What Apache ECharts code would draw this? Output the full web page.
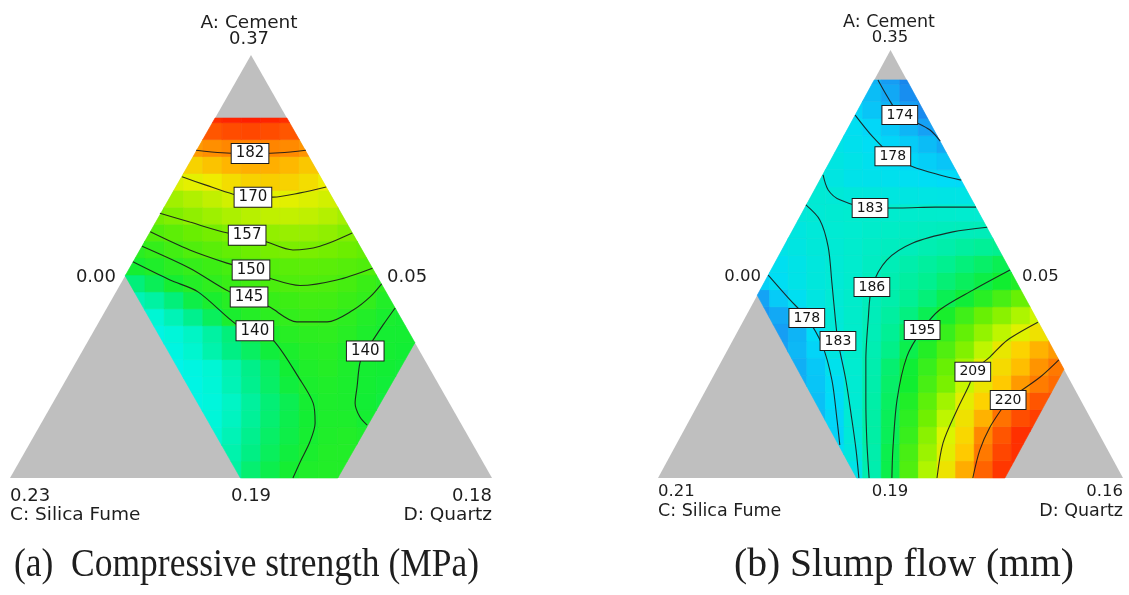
<!DOCTYPE html>
<html>
<head>
<meta charset="utf-8">
<script src="https://cdn.jsdelivr.net/npm/echarts@6/dist/echarts.min.js"></script>
<style>
  html, body { margin: 0; padding: 0; background: #ffffff; }
  #chart { width: 1129px; height: 595px; }
</style>
</head>
<body>
<div id="chart"></div>
<script>
// Each panel is a ternary slice drawn on a hidden value grid:
// x runs 0..1 along the base (C at 0, D at 1), y runs 0..1 from base to apex A.
const STEP = 0.04;                        // size of one response cell in axis units
const TRIANGLE = [[0, 0], [1, 0], [0.5, 1]];

// ---------- (a) Compressive strength (MPa) ----------
const strengthRegion = [[0.4255, 0.851], [0.5745, 0.851], [0.84, 0.32], [0.68, 0], [0.478, 0], [0.239, 0.478]];
const strengthRowStart = [11, 10, 10, 9, 9, 8, 8, 7, 7, 6, 6, 5, 6, 6, 7, 7, 8, 8, 9, 9, 10, 10];
const strengthRows = [
  [128, 133, 136.5, 139.5, 141.5, 142, 142],
  [125, 127, 131, 135, 138, 140.5, 142, 142],
  [123, 126, 130, 134, 137, 139.7, 141.5, 142, 141],
  [121, 122, 125, 129, 133, 136.5, 139.2, 141, 141, 139.5],
  [120, 121.5, 124.5, 128.5, 132.5, 136, 139.5, 141, 140.7, 139, 138],
  [119, 120, 122.5, 126, 130, 134, 138, 140.7, 141.5, 140.7, 139.3, 138.5],
  [119, 120.5, 123, 126.5, 130.5, 134.5, 139, 141.5, 142.5, 141, 139.5, 139, 138.5],
  [119, 120.5, 123.5, 127, 131, 134.5, 138.2, 140.8, 142.5, 143, 141.5, 140, 139.5, 139],
  [120, 122, 124.5, 128, 132, 136.5, 141, 143, 144, 144.3, 143, 141, 139.5, 139.5],
  [122, 123, 126, 130, 135, 140.5, 142.5, 144, 145, 146, 145.5, 144, 142, 140.3, 139.5],
  [126, 128, 132, 137, 140.5, 143, 144.6, 146, 147, 148, 147.8, 146.5, 145, 142],
  [128, 132, 135.5, 139.5, 142.5, 144.6, 146.5, 148, 149.3, 150.1, 150.3, 150, 148.5, 146.5, 144.5],
  [139.5, 141.5, 143.8, 145.6, 147, 148.6, 150, 151.2, 152, 152.3, 152, 151.2, 150.2],
  [143.5, 145.5, 148, 150.3, 152, 153.5, 155, 156.2, 156.9, 156.7, 156, 155, 153.5],
  [150.5, 152.5, 154.5, 156, 157.3, 158.6, 159.8, 160.5, 160.5, 159.5, 157.5],
  [156, 157.5, 159.5, 161.3, 163, 164.3, 165.3, 165.7, 165.3, 164, 162],
  [161.5, 163.5, 165.5, 167.5, 169.3, 169.8, 169.5, 168.7, 167.5],
  [168.5, 169.8, 171.5, 173.5, 175, 175.5, 175, 173.5, 171],
  [175, 177, 178.8, 179.5, 179.5, 178.5, 176.5],
  [181.5, 182.5, 183.3, 183.6, 183.5, 183, 182],
  [188, 189, 189.5, 189, 188],
  [192, 193, 193.5, 193, 192]
];
const strengthLevels = [182, 170, 157, 150, 145, 140, 140];
const strengthLines = [
  [[0.386, 0.775], [0.44, 0.769], [0.498, 0.767], [0.56, 0.769], [0.614, 0.775]],
  [[0.357, 0.712], [0.405, 0.693], [0.463, 0.671], [0.504, 0.664], [0.546, 0.664], [0.602, 0.674], [0.656, 0.688]],
  [[0.311, 0.626], [0.373, 0.605], [0.452, 0.579], [0.492, 0.574], [0.533, 0.558], [0.587, 0.539], [0.643, 0.548], [0.710, 0.579]],
  [[0.291, 0.582], [0.373, 0.539], [0.45, 0.508], [0.500, 0.492], [0.545, 0.470], [0.602, 0.455], [0.678, 0.468], [0.752, 0.496]],
  [[0.274, 0.548], [0.373, 0.496], [0.456, 0.440], [0.496, 0.428], [0.539, 0.404], [0.595, 0.369], [0.658, 0.369], [0.712, 0.397], [0.747, 0.428], [0.771, 0.459]],
  [[0.255, 0.511], [0.332, 0.468], [0.390, 0.440], [0.471, 0.362], [0.508, 0.348], [0.546, 0.326], [0.602, 0.232], [0.629, 0.177], [0.633, 0.130], [0.622, 0.085], [0.602, 0.038], [0.587, 0]],
  [[0.799, 0.402], [0.774, 0.362], [0.753, 0.326], [0.737, 0.300], [0.726, 0.272], [0.720, 0.215], [0.716, 0.177], [0.726, 0.144], [0.741, 0.125]]
];
const strengthLabelAt = [2, 3, 3, 3, 3, 4, 3];
const strengthRange = [115, 195];

// ---------- (b) Slump flow (mm) ----------
const slumpRegion = [[0.465, 0.93], [0.535, 0.93], [0.873, 0.254], [0.746, 0], [0.427, 0], [0.2135, 0.427]];
const slumpRowStart = [10, 9, 9, 8, 8, 7, 7, 6, 6, 5, 5, 5, 6, 6, 7, 7, 8, 8, 9, 9, 10, 10, 11, 11];
const slumpRows = [
  [180.5, 187.2, 194.3, 200, 205.7, 211.2, 217, 222.5, 225.5, 227],
  [178.5, 182, 187.5, 194.2, 199.5, 204.5, 209.5, 214.5, 221, 224.5, 226.5],
  [177.3, 182.8, 188, 193.5, 198.5, 203.5, 208.5, 213, 220, 223.5, 226, 227],
  [175, 177.5, 183.4, 188, 193.5, 197.8, 202, 206.5, 211.5, 216.5, 221.5, 224, 225],
  [175.5, 178, 183.6, 187.8, 193, 197, 200.8, 204.8, 209.7, 213.7, 218.5, 221.5, 223.5, 224],
  [174, 176, 178.5, 183.7, 187.5, 192.5, 196, 199.5, 202.5, 207, 211, 214.5, 218.5, 220.8, 222],
  [174, 176.2, 179.8, 184, 187.2, 192, 195.7, 198.5, 201.5, 205, 209.5, 212.5, 215.5, 219, 221],
  [172.8, 174.8, 177.3, 181.5, 184.3, 186.8, 190.5, 194.2, 197.2, 200, 203, 206.5, 210.5, 213.5, 216.5, 218.5],
  [172.5, 174.5, 178.2, 182.7, 184.5, 186.3, 189.5, 193, 195.7, 198.5, 201.2, 204, 206.5, 209, 211.5],
  [172, 173.5, 176.5, 179.7, 183, 184.6, 186.2, 188.5, 191, 193.8, 196.5, 199, 201.5, 203.5, 205.5, 207.5],
  [173, 176.5, 179, 181.5, 183.2, 184.5, 186, 187.5, 189.5, 191.5, 193.8, 195.5, 197.5, 199.5, 201.5],
  [177, 178.7, 180.5, 182.2, 183.1, 184.3, 185.7, 187, 188.5, 190, 191.7, 193.2, 194.6, 196, 197],
  [179.2, 180.5, 182, 183.2, 184.2, 185.3, 186.3, 187.5, 188.7, 190, 191.3, 192.5, 193.8],
  [180.5, 181.5, 182.6, 183.4, 184.2, 184.9, 185.5, 186, 186.8, 187.5, 188.5, 189.3, 190],
  [181.8, 182.7, 183.5, 184, 184.5, 184.9, 185.2, 185.5, 185.8, 186, 186.2],
  [182.5, 183.2, 183.7, 184, 184.1, 184.2, 184.3, 184.4, 184.3, 184.1, 183.9],
  [183.4, 183, 182.4, 182, 181.8, 181.5, 181.2, 181, 180.9],
  [183, 181.5, 180.3, 180, 179.6, 179, 178.6, 178.1, 177.8],
  [181.5, 180.5, 179.5, 178.6, 177.6, 176.8, 176],
  [180.5, 179.6, 178.6, 177.4, 176.5, 175.2, 173.5],
  [179, 177.6, 176.2, 174.6, 172.8],
  [177.5, 176, 174.5, 172.5, 170.5],
  [175.3, 173.4, 170.8],
  [174.6, 172.4, 170]
];
const slumpLevels = [174, 178, 183, 186, 195, 209, 220, 178, 183];
const slumpLines = [
  [[0.473, 0.930], [0.495, 0.888], [0.520, 0.848], [0.553, 0.832], [0.585, 0.813], [0.607, 0.787]],
  [[0.424, 0.848], [0.462, 0.797], [0.505, 0.752], [0.548, 0.727], [0.606, 0.708], [0.652, 0.696]],
  [[0.355, 0.708], [0.366, 0.673], [0.391, 0.650], [0.456, 0.631], [0.520, 0.631], [0.596, 0.633], [0.684, 0.633]],
  [[0.708, 0.586], [0.634, 0.575], [0.548, 0.549], [0.492, 0.509], [0.460, 0.446], [0.452, 0.369], [0.447, 0.276], [0.447, 0.182], [0.449, 0.089], [0.454, 0]],
  [[0.757, 0.486], [0.677, 0.439], [0.606, 0.393], [0.568, 0.346], [0.535, 0.283], [0.514, 0.182], [0.505, 0.065], [0.503, 0]],
  [[0.817, 0.364], [0.751, 0.322], [0.714, 0.283], [0.677, 0.248], [0.671, 0.222], [0.643, 0.159], [0.613, 0.082], [0.600, 0]],
  [[0.862, 0.276], [0.822, 0.236], [0.753, 0.182], [0.742, 0.166], [0.714, 0.119], [0.692, 0.065], [0.677, 0]],
  [[0.237, 0.474], [0.284, 0.416], [0.320, 0.374], [0.353, 0.311], [0.374, 0.229], [0.385, 0.136], [0.391, 0.077]],
  [[0.318, 0.638], [0.348, 0.603], [0.366, 0.540], [0.374, 0.456], [0.381, 0.376], [0.387, 0.320], [0.404, 0.229], [0.417, 0.136], [0.426, 0.065], [0.432, 0]]
];
const slumpLabelAt = [2, 2, 3, 4, 3, 3, 2, 2, 5];
const slumpRange = [166, 226];

// Corner / edge annotations of each panel
const strengthCorners = ['A: Cement', '0.37', '0.00', '0.05', '0.23', '0.19', '0.18', 'C: Silica Fume', 'D: Quartz'];
const slumpCorners = ['A: Cement', '0.35', '0.00', '0.05', '0.21', '0.19', '0.16', 'C: Silica Fume', 'D: Quartz'];
const captions = ['(a)  Compressive strength (MPa)', '(b) Slump flow (mm)'];

// ---------- helpers ----------
function signedArea(poly) {
  let s = 0;
  for (let i = 0; i < poly.length; i++) {
    const a = poly[i], b = poly[(i + 1) % poly.length];
    s += a[0] * b[1] - b[0] * a[1];
  }
  return s / 2;
}

// Sutherland-Hodgman clip of a cell against the convex feasible region
function clipToRegion(subject, region) {
  const orient = signedArea(region) > 0 ? 1 : -1;
  let out = subject;
  for (let i = 0; i < region.length && out.length; i++) {
    const a = region[i], b = region[(i + 1) % region.length];
    const side = p => orient * ((b[0] - a[0]) * (p[1] - a[1]) - (b[1] - a[1]) * (p[0] - a[0]));
    const input = out;
    out = [];
    for (let j = 0; j < input.length; j++) {
      const p = input[j], q = input[(j + 1) % input.length];
      const sp = side(p), sq = side(q);
      if (sp >= 0) out.push(p);
      if ((sp >= 0) !== (sq >= 0)) {
        const t = sp / (sp - sq);
        out.push([p[0] + t * (q[0] - p[0]), p[1] + t * (q[1] - p[1])]);
      }
    }
  }
  return out;
}

function cellData(rows, starts) {
  const out = [];
  rows.forEach((vals, i) => vals.forEach((v, k) => out.push([(starts[i] + k) * STEP, i * STEP, v])));
  return out;
}

function panel(idx, region, rows, starts, levels, lines, labelAt, labelSize) {
  const list = [];
  // grey simplex
  list.push({
    type: 'custom', xAxisIndex: idx, yAxisIndex: idx, silent: true, z: 1,
    data: [[0, 0]],
    renderItem: (params, api) => ({
      type: 'polygon',
      shape: { points: TRIANGLE.map(p => api.coord(p)) },
      style: { fill: '#bfbfbf' }
    })
  });
  // response surface cells
  list.push({
    type: 'custom', xAxisIndex: idx, yAxisIndex: idx, silent: true, z: 2,
    dimensions: ['x', 'y', 'v'],
    encode: { x: 0, y: 1 },
    data: cellData(rows, starts),
    renderItem: (params, api) => {
      const x0 = api.value(0), y0 = api.value(1);
      const cell = [[x0, y0], [x0 + STEP, y0], [x0 + STEP, y0 + STEP], [x0, y0 + STEP]];
      const poly = clipToRegion(cell, region);
      if (poly.length < 3) return null;
      const color = api.visual('color');
      return {
        type: 'polygon',
        shape: { points: poly.map(p => api.coord(p)) },
        style: { fill: color, stroke: color, lineWidth: 0.6 }
      };
    }
  });
  // contour lines
  lines.forEach(pts => list.push({
    type: 'line', xAxisIndex: idx, yAxisIndex: idx, silent: true, z: 3,
    data: pts, smooth: 0.3, symbol: 'none',
    lineStyle: { color: '#1a1a1a', width: 1.1, opacity: 0.9 }
  }));
  // contour labels
  list.push({
    type: 'scatter', xAxisIndex: idx, yAxisIndex: idx, silent: true, z: 4,
    symbol: 'rect', symbolSize: 1,
    itemStyle: { color: 'rgba(0,0,0,0)', opacity: 1 },
    data: levels.map((lv, i) => [lines[i][labelAt[i]][0], lines[i][labelAt[i]][1], lv]),
    label: {
      show: true, position: 'inside', opacity: 1,
      formatter: p => String(p.value[2]),
      fontFamily: 'DejaVu Sans', fontSize: labelSize, color: '#151515',
      backgroundColor: '#ffffff', borderColor: '#1a1a1a', borderWidth: 1,
      padding: [1, 4, 0, 4], lineHeight: labelSize + 3
    }
  });
  return list;
}

const seriesA = panel(0, strengthRegion, strengthRows, strengthRowStart, strengthLevels, strengthLines, strengthLabelAt, 15);
const seriesB = panel(1, slumpRegion, slumpRows, slumpRowStart, slumpLevels, slumpLines, slumpLabelAt, 14);

function txt(x, y, text, align, size, family, scaleX) {
  return {
    type: 'text', x: x, y: y, silent: true,
    scaleX: scaleX || 1, originX: 0, originY: 0,
    style: {
      text: text, fill: '#1e1e1e',
      font: size + 'px ' + (family || '"DejaVu Sans"'),
      align: align, verticalAlign: 'middle',
      textAlign: align, textVerticalAlign: 'middle'
    }
  };
}

const SERIF = '"Liberation Serif", "Times New Roman", serif';
const graphics = [
  txt(249, 23, strengthCorners[0], 'center', 18.5),
  txt(249, 39, strengthCorners[1], 'center', 18),
  txt(116, 277, strengthCorners[2], 'right', 18),
  txt(387, 277, strengthCorners[3], 'left', 18),
  txt(10, 496, strengthCorners[4], 'left', 18),
  txt(251, 496, strengthCorners[5], 'center', 18),
  txt(492, 496, strengthCorners[6], 'right', 18),
  txt(10, 515, strengthCorners[7], 'left', 18.5),
  txt(492, 515, strengthCorners[8], 'right', 18.5),

  txt(889, 22, slumpCorners[0], 'center', 17.5),
  txt(890, 38, slumpCorners[1], 'center', 16.5),
  txt(761, 277, slumpCorners[2], 'right', 16.5),
  txt(1022, 277, slumpCorners[3], 'left', 16.5),
  txt(658, 492, slumpCorners[4], 'left', 16.5),
  txt(890, 492, slumpCorners[5], 'center', 16.5),
  txt(1123, 492, slumpCorners[6], 'right', 16.5),
  txt(658, 511, slumpCorners[7], 'left', 17.5),
  txt(1123, 511, slumpCorners[8], 'right', 17.5),

  txt(14, 565, captions[0], 'left', 40, SERIF, 0.887),
  txt(734, 565, captions[1], 'left', 40, SERIF, 0.99)
];

const hiddenAxis = { type: 'value', min: 0, max: 1, show: false };

const chart = echarts.init(document.getElementById('chart'), null, { renderer: 'canvas' });
chart.setOption({
  animation: false,
  backgroundColor: '#ffffff',
  grid: [
    { left: 10, top: 55, width: 482, height: 423 },
    { left: 658, top: 50, width: 465, height: 428 }
  ],
  xAxis: [Object.assign({ gridIndex: 0 }, hiddenAxis), Object.assign({ gridIndex: 1 }, hiddenAxis)],
  yAxis: [Object.assign({ gridIndex: 0 }, hiddenAxis), Object.assign({ gridIndex: 1 }, hiddenAxis)],
  visualMap: [
    {
      type: 'continuous', show: false, seriesIndex: 1, dimension: 2,
      min: strengthRange[0], max: strengthRange[1],
      inRange: { color: ['#00f4ff', '#00f6d4', '#00ef84', '#12ee34', '#3cee14', '#6cee00', '#acf000', '#eef000', '#ffb400', '#ff6000', '#ff1000'] }
    },
    {
      type: 'continuous', show: false, seriesIndex: seriesA.length + 1, dimension: 2,
      min: slumpRange[0], max: slumpRange[1],
      inRange: { color: ['#1a64e0', '#1898f4', '#00dcf8', '#00ecd0', '#00f090', '#10ee30', '#70f000', '#d8f800', '#ffd000', '#ff8800', '#ff3000'] }
    }
  ],
  graphic: graphics,
  series: seriesA.concat(seriesB)
});
</script>
</body>
</html>
